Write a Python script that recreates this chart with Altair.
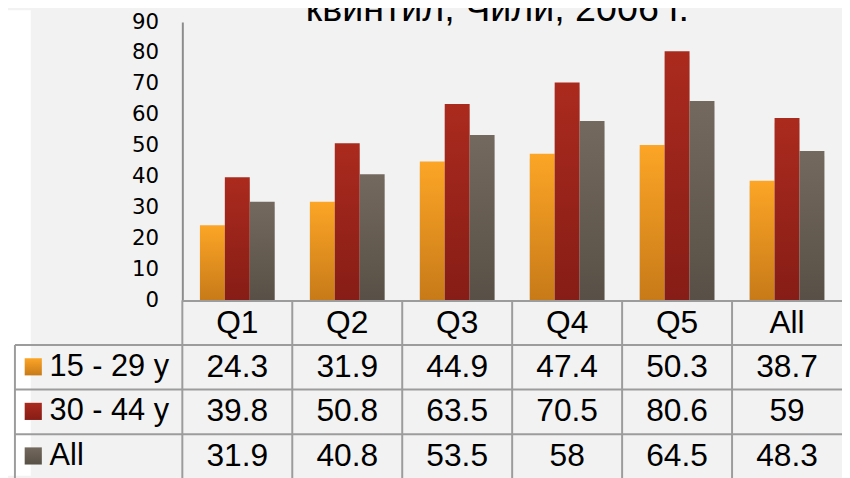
import altair as alt
import pandas as pd

# ---- data ----
categories = ["Q1", "Q2", "Q3", "Q4", "Q5", "All"]
series = ["15 - 29 y", "30 - 44 y", "All"]
values_15_29 = [24.3, 31.9, 44.9, 47.4, 50.3, 38.7]
values_30_44 = [39.8, 50.8, 63.5, 70.5, 80.6, 59]
values_all = [31.9, 40.8, 53.5, 58, 64.5, 48.3]
y_ticks = [0, 10, 20, 30, 40, 50, 60, 70, 80, 90]
title_text = "квинтил, Чили, 2006 г."

series_values = [values_15_29, values_30_44, values_all]

rows = []
for s, vals in zip(series, series_values):
    for c, v in zip(categories, vals):
        rows.append({"cat": c, "series": s, "value": v, "label": f"{v:g}"})
df = pd.DataFrame(rows)
cat_df = pd.DataFrame({"cat": categories})
leg_df = pd.DataFrame({"series": series})
one_df = pd.DataFrame({"title": [title_text]})

# ---- styling ----
W, H = 666, 281
FONT = "Liberation Sans"
LINE = "#9c9c9c"
gradients = [
    ("#fca526", "#c77a18"),
    ("#ab2a1e", "#861d16"),
    ("#74695e", "#585046"),
]


def grad(top, bottom):
    return alt.Gradient(
        gradient="linear",
        stops=[alt.GradientStop(color=top, offset=0), alt.GradientStop(color=bottom, offset=1)],
        x1=0, x2=0, y1=0, y2=1,
    )


x_bar = alt.X("cat:N", sort=categories,
              scale=alt.Scale(type="band", domain=categories, paddingInner=0.32, paddingOuter=0.16),
              axis=None)
x_off = alt.XOffset("series:N", sort=series,
                    scale=alt.Scale(domain=series, paddingInner=0, paddingOuter=0))
y_enc = alt.Y("value:Q", scale=alt.Scale(domain=[0, 90], nice=False, zero=True),
              axis=alt.Axis(values=y_ticks, ticks=False, tickSize=0, grid=False,
                            domainColor="#8c8c8c", domainWidth=2,
                            labelFont="DejaVu Sans", labelFontSize=21.5, labelColor="#000",
                            labelPadding=24, labelFlush=False, labelOverlap=False, title=None))

tbl_scale = alt.Scale(type="band", domain=categories, paddingInner=0, paddingOuter=0)

layers = []

# white strip at far left (outside the textured panel)
layers.append(alt.Chart(one_df).mark_rect(color="white").encode(
    x=alt.value(-176), x2=alt.value(-153), y=alt.value(-12), y2=alt.value(458)))

# shadows
layers.append(alt.Chart(df).mark_bar(color="#000", opacity=0.10, xOffset=4, yOffset=5).encode(
    x=x_bar, xOffset=x_off, y=y_enc, y2=alt.value(H - 5)))

# bars, one layer per series (gradient fill)
for i, s in enumerate(series):
    top, bottom = gradients[i]
    layers.append(alt.Chart(df).transform_filter(alt.datum.series == s).mark_bar(
        color=grad(top, bottom)).encode(x=x_bar, xOffset=x_off, y=y_enc))

# table grid: horizontal lines
layers.append(alt.Chart(one_df).mark_rule(color=LINE, strokeWidth=2).encode(
    x=alt.value(0), x2=alt.value(W), y=alt.value(H + 0.5)))
for yy in [326, 371, 416]:
    layers.append(alt.Chart(one_df).mark_rule(color=LINE, strokeWidth=2).encode(
        x=alt.value(-169), x2=alt.value(W), y=alt.value(yy)))
# left border of the label column
layers.append(alt.Chart(one_df).mark_rule(color=LINE, strokeWidth=2).encode(
    x=alt.value(-169), y=alt.value(326), y2=alt.value(470)))
# column separators
layers.append(alt.Chart(cat_df).mark_rule(color=LINE, strokeWidth=2).encode(
    x=alt.X("cat:N", sort=categories, scale=tbl_scale, axis=None, bandPosition=0),
    y=alt.value(H), y2=alt.value(470)))

# header row
layers.append(alt.Chart(cat_df).mark_text(font=FONT, fontSize=32, color="#000",
                                          baseline="middle", align="center").encode(
    x=alt.X("cat:N", sort=categories, scale=tbl_scale, axis=None, bandPosition=0.5),
    y=alt.value(304), text="cat:N"))

# value rows + legend keys
for i, s in enumerate(series):
    ry = 348 + 45 * i
    top, bottom = gradients[i]
    layers.append(alt.Chart(df).transform_filter(alt.datum.series == s).mark_text(
        font=FONT, fontSize=32, color="#000", baseline="middle", align="center").encode(
        x=alt.X("cat:N", sort=categories, scale=tbl_scale, axis=None, bandPosition=0.5),
        y=alt.value(ry), text="label:N"))
    layers.append(alt.Chart(leg_df).transform_filter(alt.datum.series == s).mark_square(
        size=300, filled=True, opacity=1, color=grad(top, bottom)).encode(
        x=alt.value(-150.5), y=alt.value(ry)))
    layers.append(alt.Chart(leg_df).transform_filter(alt.datum.series == s).mark_text(
        font=FONT, fontSize=31, color="#000", baseline="middle", align="left").encode(
        x=alt.value(-134), y=alt.value(ry), text="series:N"))

# title (upper part cut off in the reference)
layers.append(alt.Chart(one_df).mark_text(font=FONT, fontSize=38, color="#000",
                                          baseline="alphabetic", align="center").encode(
    x=alt.value(318), y=alt.value(-1), text="title:N"))

chart = alt.layer(*layers).resolve_scale(x="independent").properties(
    width=W, height=H,
    autosize=alt.AutoSizeParams(type="none"),
    padding={"left": 176, "top": 12, "right": 0, "bottom": 177},
    background="#f2f2f2",
).configure_view(strokeWidth=0)

chart.save("out.html", embed_options={"renderer": "svg", "actions": False})
